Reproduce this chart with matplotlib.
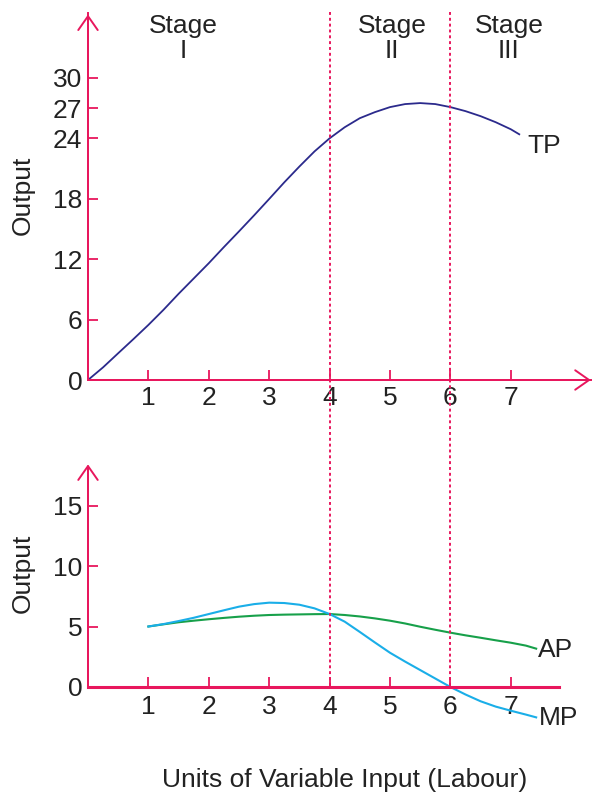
import numpy as np
import matplotlib.pyplot as plt
from matplotlib.transforms import blended_transform_factory

plt.rcParams['font.family'] = ['Liberation Sans', 'DejaVu Sans']

# values
tp_x = [0, 0.25, 0.5, 0.75, 1, 1.25, 1.5, 1.75, 2, 2.25, 2.5, 2.75, 3, 3.25, 3.5, 3.75,
        4, 4.25, 4.5, 4.75, 5, 5.25, 5.5, 5.75, 6, 6.25, 6.5, 6.75, 7, 7.14]
tp_y = [0, 1.26, 2.66, 4.05, 5.47, 6.97, 8.56, 10.08, 11.6, 13.2, 14.76, 16.35, 17.98, 19.63,
        21.2, 22.7, 24.0, 25.1, 26.0, 26.6, 27.1, 27.4, 27.5, 27.4, 27.1, 26.7, 26.2, 25.6,
        24.9, 24.4]

ap_x = [1, 1.25, 1.5, 1.75, 2, 2.25, 2.5, 2.75, 3, 3.25, 3.5, 3.75, 4, 4.25, 4.5, 4.75,
        5, 5.25, 5.5, 5.75, 6, 6.25, 6.5, 6.75, 7, 7.25, 7.42]
ap_y = [5.0, 5.18, 5.35, 5.48, 5.6, 5.71, 5.81, 5.89, 5.95, 5.98, 6.0, 6.02, 6.03, 5.95,
        5.83, 5.67, 5.48, 5.25, 4.98, 4.73, 4.49, 4.27, 4.07, 3.86, 3.66, 3.42, 3.17]

mp_x = [1, 1.25, 1.5, 1.75, 2, 2.25, 2.5, 2.75, 3, 3.25, 3.5, 3.75, 4, 4.25, 4.5, 4.75,
        5, 5.25, 5.5, 5.75, 6, 6.25, 6.5, 6.75, 7, 7.25, 7.42]
mp_y = [5.0, 5.2, 5.45, 5.72, 6.03, 6.34, 6.64, 6.85, 6.97, 6.94, 6.8, 6.5, 6.03, 5.4,
        4.55, 3.68, 2.83, 2.1, 1.40, 0.7, 0.0, -0.62, -1.18, -1.62, -1.96, -2.28, -2.51]

x_ticks = [1, 2, 3, 4, 5, 6, 7]
top_yticks = [0, 6, 12, 18, 24, 27, 30]
bot_yticks = [0, 5, 10, 15]
stage_lines = [4, 6]
stages = ['Stage\nI', 'Stage\nII', 'Stage\nIII']
stage_x = [1.57, 5.03, 6.97]

pink = '#E8175D'
ink = '#222222'
fs = 19

W, H = 592, 794
fig = plt.figure(figsize=(W / 100, H / 100), dpi=100)

xmax = 504 / 60.4
ax1 = fig.add_axes([88 / W, 1 - 380 / H, 504 / W, 367 / H])
ax2 = fig.add_axes([88 / W, 1 - 720 / H, 504 / W, 257 / H])

ax1.set_xlim(0, xmax)
ax1.set_ylim(0, 367 / 10.07)
ax2.set_xlim(0, xmax)
ax2.set_ylim(-33 / 12.1, 224 / 12.1)

for ax in (ax1, ax2):
    ax.patch.set_alpha(0)
    ax.spines['top'].set_visible(False)
    ax.spines['right'].set_visible(False)
    ax.spines['left'].set_color(pink)
    ax.spines['bottom'].set_color(pink)
    ax.spines['left'].set_position(('data', 0))
    ax.spines['bottom'].set_position(('data', 0))
    ax.set_xticks(x_ticks)
    ax.tick_params(direction='in', length=7, width=1.3, color=pink,
                   labelsize=fs, labelcolor=ink)
    ax.tick_params(axis='y', pad=4)

ax1.spines['left'].set_linewidth(1.4)
ax1.spines['bottom'].set_linewidth(1.4)
ax2.spines['left'].set_linewidth(1.4)
ax2.spines['bottom'].set_linewidth(2.2)
ax1.tick_params(axis='x', pad=4)
ax2.tick_params(axis='x', pad=6)

ax1.set_yticks(top_yticks)
ax2.set_yticks(bot_yticks)
ax2.spines['bottom'].set_bounds(0, 471 / 60.4)
ax2.spines['left'].set_bounds(0, 18)

# axis arrows
arrow = dict(arrowstyle='->,head_length=0.5,head_width=0.35', color=pink, lw=1.4,
             shrinkA=0, shrinkB=0, mutation_scale=20)
ax1.annotate('', xy=(0, 36.3), xytext=(0, 0), arrowprops=arrow, annotation_clip=False)
ax1.annotate('', xy=(xmax - 0.02, 0), xytext=(0, 0), arrowprops=arrow, annotation_clip=False)
ax2.annotate('', xy=(0, 18.4), xytext=(0, 0), arrowprops=arrow, annotation_clip=False)

# curves
ax1.plot(tp_x, tp_y, color='#2B2A8C', lw=1.3, solid_joinstyle='round')
ax2.plot(ap_x, ap_y, color='#17A04A', lw=1.5, solid_joinstyle='round')
ax2.plot(mp_x, mp_y, color='#1AAEE8', lw=1.5, solid_joinstyle='round')

# stage boundaries across both panels
tr = blended_transform_factory(ax1.transData, fig.transFigure)
for xv in stage_lines:
    fig.lines.append(plt.Line2D([xv, xv], [1 - 12 / H, 1 - 687 / H], transform=tr,
                                color=pink, lw=1.4, ls=(0, (1.5, 1.5))))

for s, xv in zip(stages, stage_x):
    ax1.text(xv, 33.9, s, ha='center', va='center', fontsize=fs, color=ink,
             linespacing=1.05)

ax1.text(7.27, 23.2, 'TP', ha='left', va='center', fontsize=fs, color=ink)
ax2.text(7.45, 3.06, 'AP', ha='left', va='center', fontsize=fs, color=ink)
ax2.text(7.47, -2.56, 'MP', ha='left', va='center', fontsize=fs, color=ink)

fig.text(23 / W, 1 - 195 / H, 'Output', rotation=90, ha='center', va='center',
         fontsize=fs, color=ink)
fig.text(23 / W, 1 - 573 / H, 'Output', rotation=90, ha='center', va='center',
         fontsize=fs, color=ink)
fig.text(345 / W, 1 - 780 / H, 'Units of Variable Input (Labour)', ha='center',
         va='center', fontsize=fs, color=ink)

fig.savefig('out.png', dpi=100)
